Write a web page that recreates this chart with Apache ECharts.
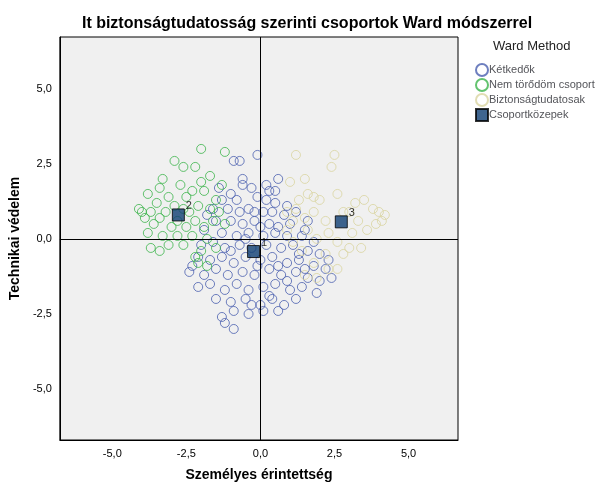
<!DOCTYPE html><html><head><meta charset="utf-8"><script src="https://cdn.jsdelivr.net/npm/echarts@6/dist/echarts.min.js"></script></head><body style="margin:0;background:#fff"><div id="c" style="width:596px;height:491px"></div><script>
const blue=[[-0.1,2.8],[-0.7,2.6],[-0.9,2.6],[0.6,2.0],[0.2,1.8],[0.5,1.6],[-0.6,1.8],[-0.3,1.7],[-1.0,1.5],[-1.3,1.3],[-0.8,1.3],[-0.1,1.4],[0.2,1.3],[0.5,1.2],[0.9,1.1],[-1.6,1.0],[-1.1,1.0],[-0.7,0.9],[-0.4,1.0],[0.1,0.9],[0.4,0.9],[0.8,0.8],[1.2,0.9],[-1.5,0.6],[-1.0,0.6],[-0.6,0.5],[-0.2,0.6],[0.3,0.5],[0.6,0.4],[1.0,0.5],[1.5,0.3],[-1.9,0.3],[-1.3,0.2],[-0.8,0.1],[-0.4,0.2],[0.1,0.1],[0.5,0.2],[0.9,0.1],[1.4,0.1],[1.8,-0.1],[-2.0,-0.2],[-1.6,-0.1],[-1.2,-0.3],[-0.7,-0.2],[-0.3,-0.3],[0.2,-0.2],[0.7,-0.3],[1.1,-0.2],[1.6,-0.4],[2.0,-0.5],[-2.1,-0.6],[-1.7,-0.7],[-1.3,-0.6],[-0.9,-0.8],[-0.5,-0.6],[0.0,-0.7],[0.4,-0.6],[0.9,-0.8],[1.3,-0.7],[1.8,-0.9],[2.2,-1.0],[-2.4,-1.1],[-1.9,-1.2],[-1.5,-1.0],[-1.1,-1.2],[-0.6,-1.1],[-0.2,-1.2],[0.3,-1.0],[0.7,-1.2],[1.2,-1.1],[1.6,-1.3],[2.0,-1.4],[2.4,-1.3],[-2.1,-1.6],[-1.7,-1.5],[-1.2,-1.7],[-0.8,-1.5],[-0.4,-1.7],[0.1,-1.6],[0.5,-1.5],[1.0,-1.7],[1.4,-1.6],[1.9,-1.8],[-1.5,-2.0],[-1.0,-2.1],[-0.5,-2.0],[0.0,-2.2],[0.4,-2.0],[0.8,-2.2],[1.2,-2.0],[-1.3,-2.6],[-0.9,-2.4],[-0.4,-2.5],[0.1,-2.4],[0.6,-2.4],[-1.2,-2.8],[-0.9,-3.0],[0.3,-1.9],[-0.2,0.9],[0.3,1.6],[-1.8,0.8],[1.6,0.6],[-0.1,-0.9],[0.6,-0.9],[-1.0,-0.4],[1.3,-0.5],[-0.6,2.0],[-1.4,1.7],[-0.3,-2.2],[0.9,-1.4],[-2.3,-0.9],[1.5,-1.0],[2.3,-0.7],[-0.5,0.0],[0.0,0.4]];
const green=[[-2.0,3.0],[-1.2,2.9],[-2.9,2.6],[-2.6,2.4],[-2.2,2.4],[-1.7,2.1],[-2.0,1.9],[-2.7,1.8],[-1.3,1.8],[-3.4,1.7],[-2.3,1.6],[-1.9,1.6],[-3.8,1.5],[-3.1,1.4],[-2.5,1.4],[-1.5,1.3],[-3.5,1.2],[-2.9,1.1],[-2.1,1.1],[-1.7,1.0],[-4.1,1.0],[-4.0,0.9],[-3.7,0.9],[-3.2,0.9],[-2.4,0.9],[-1.4,0.9],[-3.9,0.7],[-3.4,0.7],[-2.8,0.6],[-2.2,0.6],[-1.6,0.6],[-3.6,0.5],[-3.0,0.4],[-2.5,0.4],[-1.9,0.4],[-3.8,0.2],[-3.3,0.1],[-2.8,0.1],[-2.3,0.1],[-1.8,0.0],[-3.7,-0.3],[-3.4,-0.4],[-2.6,-0.2],[-2.0,-0.4],[-1.5,-0.3],[-2.2,-0.6],[-1.8,-0.9],[-2.1,-0.8],[-1.2,0.5],[-3.1,-0.2],[-2.6,1.0],[-3.3,2.0]];
const beige=[[2.5,2.8],[1.2,2.8],[2.4,2.4],[1.5,2.0],[1.0,1.9],[1.6,1.5],[2.0,1.3],[1.8,1.4],[2.6,1.5],[3.5,1.3],[1.2,1.0],[1.8,0.9],[3.0,0.9],[3.8,1.0],[4.0,0.9],[4.2,0.8],[1.1,0.6],[1.5,0.7],[2.2,0.6],[3.3,0.6],[3.9,0.5],[0.9,0.3],[1.6,0.3],[2.3,0.2],[3.1,0.2],[3.6,0.3],[1.1,-0.1],[1.9,0.0],[2.6,-0.1],[3.0,-0.3],[1.4,-0.4],[2.2,-0.5],[2.8,-0.5],[1.8,-0.8],[2.3,-1.0],[1.5,-1.2],[2.6,-1.0],[1.9,-1.3],[3.4,-0.3],[0.9,0.9],[3.2,1.2],[2.8,0.9],[4.1,0.6],[1.3,1.3]];
const cent=[[-0.23,-0.42,'1'],[-2.77,0.8,'2'],[2.73,0.57,'3']];
const ticks=[-5,-2.5,0,2.5,5];
const c=echarts.init(document.getElementById('c'));
const lab={color:'#000',fontSize:11,customValues:ticks,formatter:v=>v.toFixed(1).replace('.',',')};
const ax={interval:2.5,axisLine:{onZero:false,lineStyle:{color:'#000'}},axisTick:{show:false},splitLine:{show:false},axisLabel:lab,nameLocation:'middle',nameTextStyle:{fontWeight:'bold',fontSize:14,color:'#000'}};
c.setOption({animation:false,
title:{text:'It biztonságtudatosság szerinti csoportok Ward módszerrel',left:302,textAlign:'center',top:11,textStyle:{fontSize:16,fontWeight:'bold',color:'#000',fontFamily:'Liberation Sans'}},
grid:{left:55,right:138,top:37,bottom:51,backgroundColor:'#f0f0f0',show:true,borderColor:'#000'},
legend:{orient:'vertical',left:470,top:58,itemWidth:12,itemHeight:12,itemGap:1,textStyle:{fontSize:11,padding:[0,0,0,-4]},data:['Kétkedők','Nem törődöm csoport','Biztonságtudatosak','Csoportközepek']},
graphic:[{type:'text',left:493,top:40,style:{text:'Ward Method',fontSize:13,fill:'#222'}}],
xAxis:Object.assign({},ax,{min:-6.77,max:6.67,name:'Személyes érintettség',nameGap:28}),
yAxis:Object.assign({},ax,{min:-6.7,max:6.73,name:'Technikai védelem',nameGap:22}),
series:[
{name:'Kétkedők',type:'scatter',data:blue,symbolSize:9,itemStyle:{color:'transparent',borderColor:'#4a5faf',borderWidth:1},markLine:{silent:true,symbol:'none',label:{show:false},lineStyle:{color:'#000',type:'solid',width:1},data:[{xAxis:0},{yAxis:0}]}},
{name:'Nem törődöm csoport',type:'scatter',data:green,symbolSize:9,itemStyle:{color:'transparent',borderColor:'#3cb44b',borderWidth:1}},
{name:'Biztonságtudatosak',type:'scatter',data:beige,symbolSize:9,itemStyle:{color:'transparent',borderColor:'#d9d4a0',borderWidth:1}},
{name:'Csoportközepek',type:'scatter',symbol:'rect',symbolSize:12,data:cent,itemStyle:{color:'#0f3f73',borderColor:'#000',borderWidth:1},label:{show:true,formatter:p=>p.data[2],position:[14,-8],fontSize:11,color:'#000'}}
]});
</script></body></html>
